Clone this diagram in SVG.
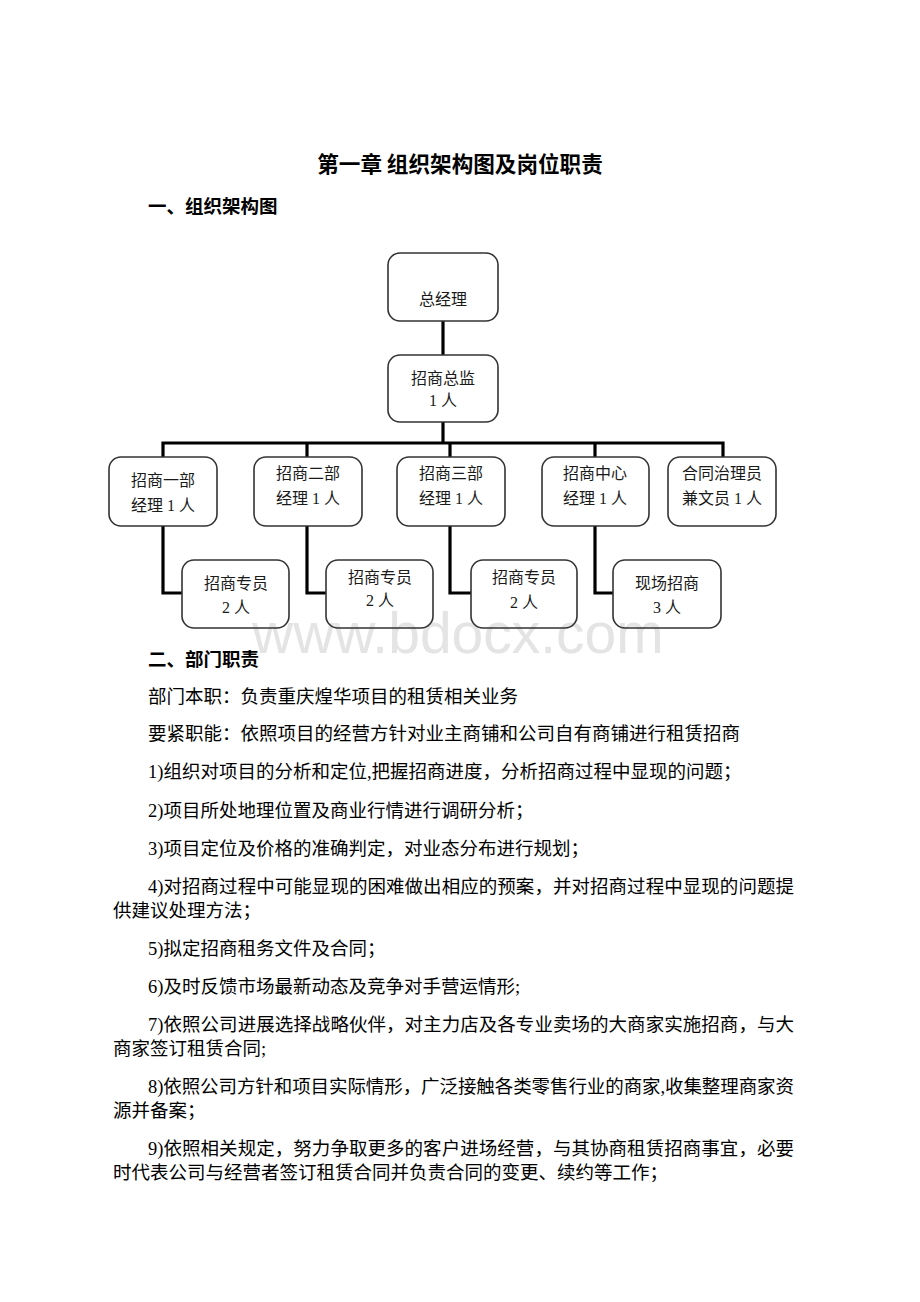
<svg xmlns="http://www.w3.org/2000/svg" width="920" height="1302" viewBox="0 0 920 1302">
<style>
.bg{fill:#ffffff}
.wm{font-family:"Liberation Sans",Arial,sans-serif;font-size:57px;fill:#e4e4e4}
.title{font-family:"Noto Sans CJK SC",sans-serif;font-size:21.6px;font-weight:bold;fill:#000}
.h{font-family:"Noto Sans CJK SC",sans-serif;font-size:18.5px;font-weight:bold;fill:#000}
.b{font-family:"Liberation Serif","Noto Sans CJK SC",serif;font-size:18.5px;fill:#000}
.box{fill:none;stroke:#333;stroke-width:1.6}
.bt{font-family:"Liberation Serif","Noto Sans CJK SC",serif;font-size:16px;fill:#1a1a1a;text-anchor:middle}
.ln{fill:none;stroke:#000;stroke-width:3.2;stroke-linejoin:miter}
</style>
<rect class="bg" x="0" y="0" width="920" height="1302"/>
<text class="wm" x="252" y="653">www.bdocx.com</text>
<text class="title" x="460" y="172" text-anchor="middle">第一章 组织架构图及岗位职责</text>
<text class="h" x="148" y="213">一、组织架构图</text>
<g id="connectors">
<path class="ln" d="M443,321 V355"/>
<path class="ln" d="M443,422 V443"/>
<path class="ln" d="M163,457 V443 H723 V457"/>
<path class="ln" d="M307,443 V457"/>
<path class="ln" d="M450,443 V457"/>
<path class="ln" d="M595,443 V457"/>
<path class="ln" d="M163,526 V593 H182"/>
<path class="ln" d="M307,526 V593 H326"/>
<path class="ln" d="M450,526 V593 H471"/>
<path class="ln" d="M595,526 V593 H613"/>
</g>
<g id="gm"><rect class="box" x="388" y="253" width="110" height="68" rx="12"/><text class="bt" x="443" y="305">总经理</text></g>
<g id="director"><rect class="box" x="388" y="355" width="110" height="67" rx="12"/><text class="bt" x="443" y="384">招商总监</text><text class="bt" x="443" y="406">1 人</text></g>
<g id="dept1"><rect class="box" x="109" y="457" width="108" height="69" rx="12"/><text class="bt" x="163" y="486">招商一部</text><text class="bt" x="163" y="511">经理 1 人</text></g>
<g id="dept2"><rect class="box" x="254" y="457" width="108" height="69" rx="12"/><text class="bt" x="308" y="479">招商二部</text><text class="bt" x="308" y="504">经理 1 人</text></g>
<g id="dept3"><rect class="box" x="397" y="457" width="108" height="69" rx="12"/><text class="bt" x="451" y="479">招商三部</text><text class="bt" x="451" y="504">经理 1 人</text></g>
<g id="center"><rect class="box" x="542" y="457" width="107" height="69" rx="12"/><text class="bt" x="595" y="479">招商中心</text><text class="bt" x="595" y="504">经理 1 人</text></g>
<g id="contract"><rect class="box" x="668" y="457" width="108" height="69" rx="12"/><text class="bt" x="722" y="479">合同治理员</text><text class="bt" x="722" y="504">兼文员 1 人</text></g>
<g id="staff1"><rect class="box" x="182" y="560" width="107" height="68" rx="12"/><text class="bt" x="236" y="589">招商专员</text><text class="bt" x="236" y="613">2 人</text></g>
<g id="staff2"><rect class="box" x="326" y="560" width="107" height="68" rx="12"/><text class="bt" x="380" y="583">招商专员</text><text class="bt" x="380" y="606">2 人</text></g>
<g id="staff3"><rect class="box" x="471" y="560" width="106" height="68" rx="12"/><text class="bt" x="524" y="583">招商专员</text><text class="bt" x="524" y="608">2 人</text></g>
<g id="onsite"><rect class="box" x="613" y="560" width="108" height="68" rx="12"/><text class="bt" x="667" y="589">现场招商</text><text class="bt" x="667" y="613">3 人</text></g>
<text class="h" x="148" y="666">二、部门职责</text>
<text class="b" x="148" y="703">部门本职：负责重庆煌华项目的租赁相关业务</text>
<text class="b" x="148" y="740">要紧职能：依照项目的经营方针对业主商铺和公司自有商铺进行租赁招商</text>
<text class="b" x="148" y="778">1)组织对项目的分析和定位,把握招商进度，分析招商过程中显现的问题；</text>
<text class="b" x="148" y="817">2)项目所处地理位置及商业行情进行调研分析；</text>
<text class="b" x="148" y="855">3)项目定位及价格的准确判定，对业态分布进行规划；</text>
<text class="b" x="148" y="893" textLength="646" lengthAdjust="spacing">4)对招商过程中可能显现的困难做出相应的预案，并对招商过程中显现的问题提</text>
<text class="b" x="113" y="917">供建议处理方法；</text>
<text class="b" x="148" y="955">5)拟定招商租务文件及合同；</text>
<text class="b" x="148" y="993">6)及时反馈市场最新动态及竞争对手营运情形;</text>
<text class="b" x="148" y="1031" textLength="646" lengthAdjust="spacing">7)依照公司进展选择战略伙伴，对主力店及各专业卖场的大商家实施招商，与大</text>
<text class="b" x="113" y="1055">商家签订租赁合同;</text>
<text class="b" x="148" y="1093" textLength="646" lengthAdjust="spacing">8)依照公司方针和项目实际情形，广泛接触各类零售行业的商家,收集整理商家资</text>
<text class="b" x="113" y="1117">源并备案；</text>
<text class="b" x="148" y="1155" textLength="646" lengthAdjust="spacing">9)依照相关规定，努力争取更多的客户进场经营，与其协商租赁招商事宜，必要</text>
<text class="b" x="113" y="1179">时代表公司与经营者签订租赁合同并负责合同的变更、续约等工作；</text>
</svg>
